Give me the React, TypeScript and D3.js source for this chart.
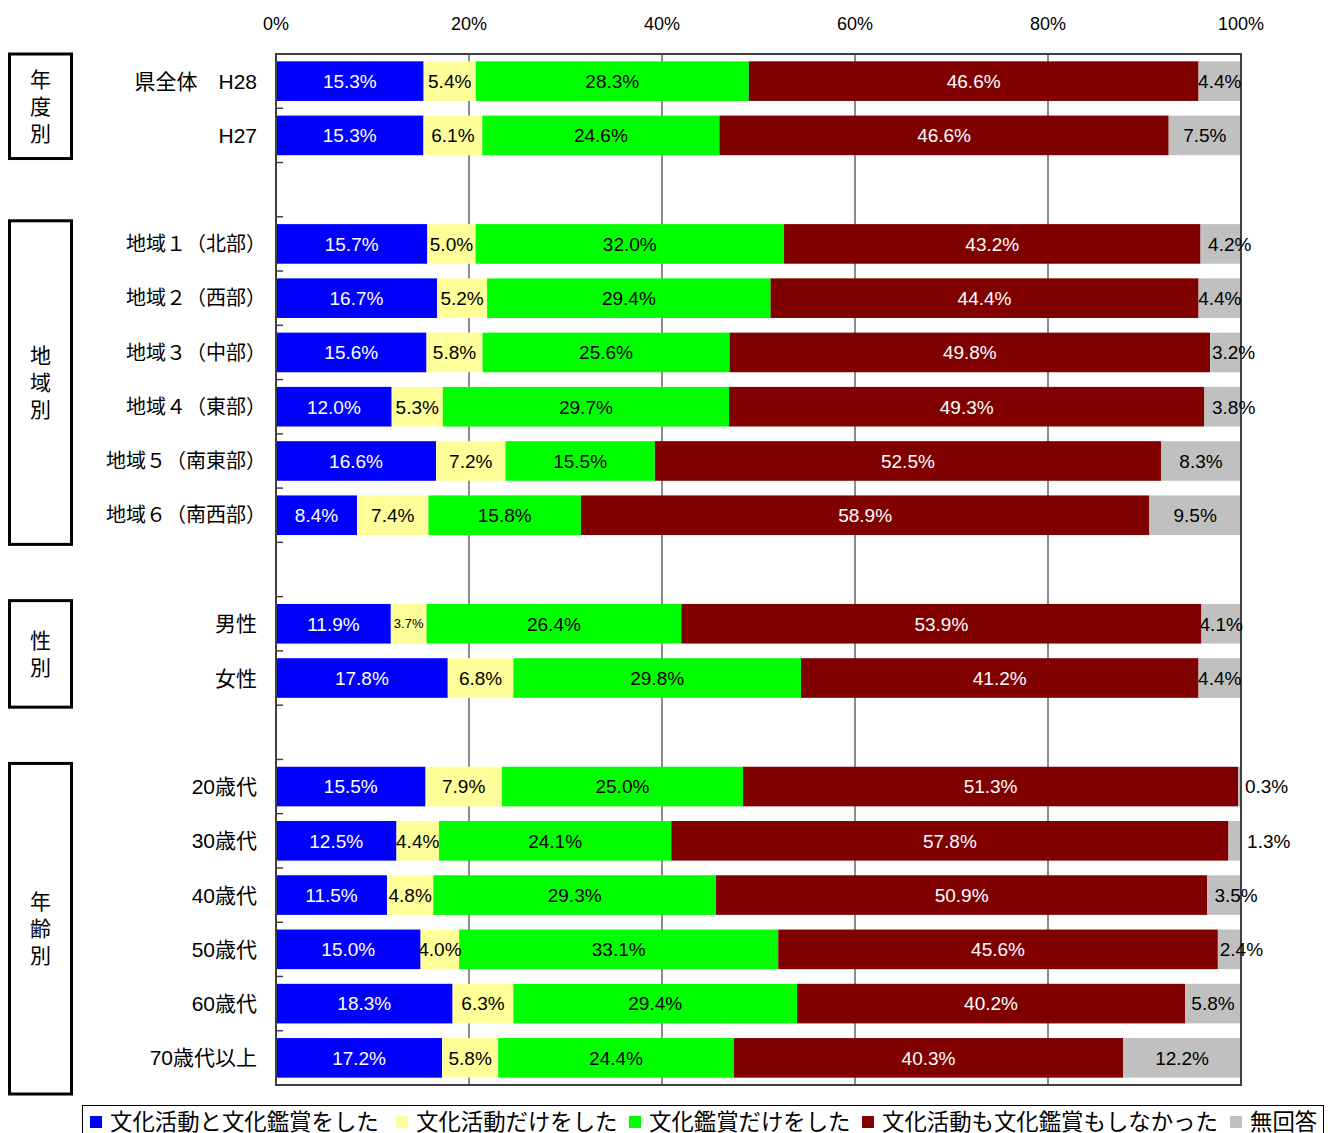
import React from 'react';
import * as d3 from 'd3';

const rowKeys = ['H28', 'H27', 'gap1', 'R1', 'R2', 'R3', 'R4', 'R5', 'R6', 'gap2', 'M', 'F', 'gap3', 'A20', 'A30', 'A40', 'A50', 'A60', 'A70'];
const rowLabels = ['県全体　H28', 'H27', '', '地域１（北部）', '地域２（西部）', '地域３（中部）', '地域４（東部）', '地域５（南東部）', '地域６（南西部）', '', '男性', '女性', '', '20歳代', '30歳代', '40歳代', '50歳代', '60歳代', '70歳代以上'];

const seriesNames = ['文化活動と文化鑑賞をした', '文化活動だけをした', '文化鑑賞だけをした', '文化活動も文化鑑賞もしなかった', '無回答'];
const seriesColors = ['#0000FF', '#FFFF99', '#00FF00', '#800000', '#C0C0C0'];
const seriesTextColors = ['#FFFFFF', '#000000', '#000000', '#FFFFFF', '#000000'];

const bothValues = [15.3, 15.3, null, 15.7, 16.7, 15.6, 12.0, 16.6, 8.4, null, 11.9, 17.8, null, 15.5, 12.5, 11.5, 15.0, 18.3, 17.2];
const activityOnly = [5.4, 6.1, null, 5.0, 5.2, 5.8, 5.3, 7.2, 7.4, null, 3.7, 6.8, null, 7.9, 4.4, 4.8, 4.0, 6.3, 5.8];
const appreciationOnly = [28.3, 24.6, null, 32.0, 29.4, 25.6, 29.7, 15.5, 15.8, null, 26.4, 29.8, null, 25.0, 24.1, 29.3, 33.1, 29.4, 24.4];
const neither = [46.6, 46.6, null, 43.2, 44.4, 49.8, 49.3, 52.5, 58.9, null, 53.9, 41.2, null, 51.3, 57.8, 50.9, 45.6, 40.2, 40.3];
const noAnswer = [4.4, 7.5, null, 4.2, 4.4, 3.2, 3.8, 8.3, 9.5, null, 4.1, 4.4, null, 0.3, 1.3, 3.5, 2.4, 5.8, 12.2];

const tickValues = [0, 20, 40, 60, 80, 100];

const groups = [
  { label: '年度別', from: 'H28', to: 'H27' },
  { label: '地域別', from: 'R1', to: 'R6' },
  { label: '性別', from: 'M', to: 'F' },
  { label: '年齢別', from: 'A20', to: 'A70' },
];

// manual label nudges (px) for the last series, as in the original
const noAnswerNudge: Record<string, number> = { R1: 9, R3: 8, R4: 11, A20: 27, A30: 34, A40: 12, A50: 12 };

const W = 1334;
const H = 1133;
const plotLeft = 276;
const plotRight = 1241;
const plotTop = 54;
const plotBottom = 1085;
const latin = "'Liberation Sans', Arial, 'Noto Sans CJK JP', sans-serif";

export default function App() {
  const allSeries = [bothValues, activityOnly, appreciationOnly, neither, noAnswer];
  const x = d3.scaleLinear().domain([0, 1]).range([plotLeft, plotRight]);
  const y = d3.scaleBand<string>().domain(rowKeys).range([plotTop, plotBottom]).paddingInner(0.27).paddingOuter(0.135);
  const step = y.step();
  const bw = y.bandwidth();

  const table = rowKeys.map((k, i) => {
    const o: any = { key: k };
    allSeries.forEach((s, j) => { o['s' + j] = s[i] ?? 0; });
    return o;
  });
  const stack = d3.stack<any>().keys(['s0', 's1', 's2', 's3', 's4']).offset(d3.stackOffsetExpand);
  const layers = stack(table);

  const bandStart = (k: string) => plotTop + rowKeys.indexOf(k) * step;

  return (
    <svg width={W} height={H} style={{ position: 'absolute', left: 0, top: 0, background: '#fff' }}>
      {/* gridlines */}
      {tickValues.slice(1, -1).map(t => (
        <line key={t} x1={x(t / 100)} x2={x(t / 100)} y1={plotTop} y2={plotBottom} stroke="#8C8C8C" strokeWidth={2} />
      ))}
      {/* bars */}
      {layers.map((layer, j) => (
        <g key={j}>
          {layer.map((d, i) => {
            const v = allSeries[j][i];
            if (v == null) return null;
            return (
              <rect key={i} x={x(d[0])} y={y(rowKeys[i])} width={Math.max(0, x(d[1]) - x(d[0]))} height={bw} fill={seriesColors[j]} />
            );
          })}
        </g>
      ))}
      {/* frame */}
      <rect x={plotLeft} y={plotTop} width={plotRight - plotLeft} height={plotBottom - plotTop} fill="none" stroke="#404040" strokeWidth={2} />
      {/* left axis ticks at band boundaries */}
      {rowKeys.slice(1).map((k) => (
        <line key={k} x1={plotLeft} x2={plotLeft + 7} y1={bandStart(k)} y2={bandStart(k)} stroke="#404040" strokeWidth={1.5} />
      ))}
      {/* top tick labels */}
      {tickValues.map(t => (
        <text key={t} x={x(t / 100)} y={30} textAnchor="middle" fontFamily={latin} fontSize={18} fill="#000">{t}%</text>
      ))}
      {/* category labels */}
      {rowKeys.map((k, i) => {
        const lbl = rowLabels[i];
        if (!lbl) return null;
        const endsParen = lbl.endsWith('）');
        return (
          <text key={k} x={endsParen ? 266 : 257} y={(y(k) as number) + bw / 2} dy="0.36em" textAnchor="end"
            fontFamily={latin} fontSize={endsParen ? 20 : 21} fill="#000">{lbl}</text>
        );
      })}
      {/* value labels */}
      {layers.map((layer, j) => (
        <g key={'l' + j}>
          {layer.map((d, i) => {
            const v = allSeries[j][i];
            if (v == null) return null;
            const x0 = x(d[0]);
            const x1 = x(d[1]);
            const segW = x1 - x0;
            const small = j < 4 && segW < 37;
            const nudge = j === 4 ? (noAnswerNudge[rowKeys[i]] || 0) : 0;
            return (
              <text key={i} x={(x0 + x1) / 2 + nudge} y={(y(rowKeys[i]) as number) + bw / 2} dy="0.36em" textAnchor="middle"
                fontFamily={latin} fontSize={small ? 13 : 19} fill={nudge > 20 ? '#000' : seriesTextColors[j]}>
                {v.toFixed(1)}%
              </text>
            );
          })}
        </g>
      ))}
      {/* group boxes */}
      {groups.map((g, gi) => {
        const top = bandStart(g.from) + (gi === 0 ? 0 : 4);
        const bottom = bandStart(g.to) + step + (gi === 0 ? -4 : 2) + (gi === 3 ? 7 : 0);
        const cy = (top + bottom) / 2;
        const chars = Array.from(g.label);
        const lh = 27;
        return (
          <g key={g.label}>
            <rect x={9.5} y={top} width={62} height={bottom - top} fill="none" stroke="#000" strokeWidth={3} />
            {chars.map((c, ci) => (
              <text key={ci} x={40.5} y={cy + (ci - (chars.length - 1) / 2) * lh} dy="0.36em" textAnchor="middle"
                fontFamily={latin} fontSize={21} fill="#000">{c}</text>
            ))}
          </g>
        );
      })}
      {/* legend */}
      <rect x={82.5} y={1105.5} width={1241} height={40} fill="#fff" stroke="#000" strokeWidth={1} />
      {(() => {
        const starts = [90, 396, 629, 862, 1230];
        return seriesNames.map((n, j) => (
          <g key={n}>
            <rect x={starts[j]} y={1116} width={12} height={12} fill={seriesColors[j]} />
            <text x={starts[j] + 20} y={1122} dy="0.36em" fontFamily={latin} fontSize={22.4} fill="#000">{n}</text>
          </g>
        ));
      })()}
    </svg>
  );
}
